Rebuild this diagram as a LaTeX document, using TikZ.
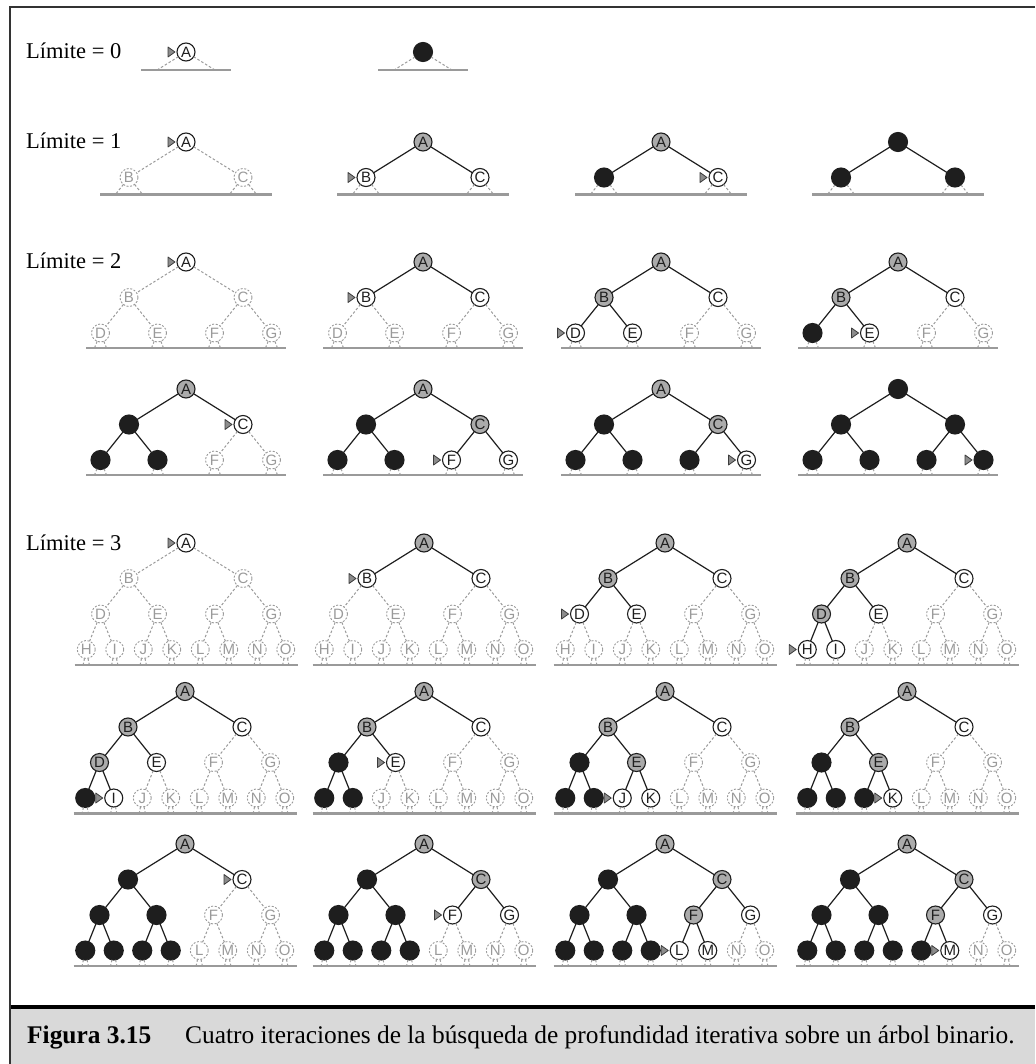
\documentclass[tikz,border=0pt]{standalone}
\usepackage{fontspec}
\setmainfont{Liberation Serif}
\newfontfamily\nodefont{Liberation Sans}
\definecolor{lgray}{HTML}{9A9A9A}
\definecolor{egray}{HTML}{ABABAB}
\definecolor{blk}{HTML}{1E1E1E}
\definecolor{capgray}{HTML}{D9D9D9}
\definecolor{framec}{HTML}{333333}
\definecolor{mkfill}{HTML}{8C8C8C}
\definecolor{mkdraw}{HTML}{3C3C3C}
\tikzset{
  tnode/.style={circle, minimum size=18pt, inner sep=0pt, outer sep=0pt, font=\nodefont\fontsize{15}{15}\selectfont},
  nodeu/.style={tnode, draw=lgray, dash pattern=on 2pt off 1.6pt, line width=0.9pt, text=lgray},
  nodef/.style={tnode, draw=blk, fill=white, line width=1.1pt, text=blk},
  nodee/.style={tnode, draw=blk, fill=egray, line width=1.1pt, text=blk},
  nodeb/.style={tnode, minimum size=19pt, draw=blk, fill=blk, line width=1.1pt},
  sedge/.style={draw=blk, line width=1.2pt},
  dedge/.style={draw=lgray, line width=1pt, dash pattern=on 2.5pt off 2pt},
  ground/.style={draw=lgray, line width=2.6pt},
  markerst/.style={fill=mkfill, draw=mkdraw, line width=0.8pt, line join=round},
  limlab/.style={font=\fontsize{22.5}{27}\selectfont, inner sep=0pt, anchor=base west},
}
\def\defpos#1#2#3{\expandafter\def\csname px#1\endcsname{#2}\expandafter\def\csname lv#1\endcsname{#3}}
\defpos{A}{0}{0}
\defpos{B}{-57}{1}\defpos{C}{57}{1}
\defpos{D}{-85.5}{2}\defpos{E}{-28.5}{2}\defpos{F}{28.5}{2}\defpos{G}{85.5}{2}
\defpos{H}{-99.75}{3}\defpos{I}{-71.25}{3}\defpos{J}{-42.75}{3}\defpos{K}{-14.25}{3}
\defpos{L}{14.25}{3}\defpos{M}{42.75}{3}\defpos{N}{71.25}{3}\defpos{O}{99.75}{3}
\newcommand\drawtree[5]{%
  \ifcase#4
    \def\tall{A}\def\tleaf{A}\def\tgh{45}\def\tgo{18}\def\tcoff{57}\def\tedges{}%
  \or
    \def\tall{A,B,C}\def\tleaf{B,C}\def\tgh{86}\def\tgo{17}\def\tcoff{28.5}\def\tedges{B/A,C/A}%
  \or
    \def\tall{A,B,C,D,E,F,G}\def\tleaf{D,E,F,G}\def\tgh{100}\def\tgo{15}\def\tcoff{14.25}%
    \def\tedges{B/A,C/A,D/B,E/B,F/C,G/C}%
  \or
    \def\tall{A,B,C,D,E,F,G,H,I,J,K,L,M,N,O}\def\tleaf{H,I,J,K,L,M,N,O}\def\tgh{111.5}\def\tgo{15.5}\def\tcoff{7.125}%
    \def\tedges{B/A,C/A,D/B,E/B,F/C,G/C,H/D,I/D,J/E,K/E,L/F,M/F,N/G,O/G}%
  \fi
  \foreach \nm in \tall {\expandafter\xdef\csname tst\nm\endcsname{u}}%
  \foreach \nm/\sv in {#5} {\expandafter\xdef\csname tst\nm\endcsname{\sv}}%
  \pgfmathsetmacro\gyv{#3+35.5*#4+\tgo}%
  \draw[ground] ({#2-\tgh},\gyv) -- ({#2+\tgh},\gyv);
  \foreach \nm in \tall {%
    \edef\st{\csname tst\nm\endcsname}%
    \edef\pxv{\csname px\nm\endcsname}%
    \edef\lvv{\csname lv\nm\endcsname}%
    \if u\st \tikzset{cur/.style={nodeu}}\fi
    \if f\st \tikzset{cur/.style={nodef}}\fi
    \if e\st \tikzset{cur/.style={nodee}}\fi
    \if b\st \tikzset{cur/.style={nodeb}}\fi
    \node[cur] (#1\nm) at ({#2+(\pxv)},{#3+35.5*\lvv}) {\if b\st\else\nm\fi};
  }%
  \ifnum#4>0
  \foreach \ch/\pa in \tedges {%
    \edef\cst{\csname tst\ch\endcsname}%
    \if u\cst \draw[dedge] (#1\pa) -- (#1\ch); \else \draw[sedge] (#1\pa) -- (#1\ch); \fi
  }%
  \fi
  \foreach \nm in \tleaf {%
    \edef\pxv{\csname px\nm\endcsname}%
    \coordinate (#1\nm sl) at ({#2+(\pxv)-\tcoff*\tgo/35.5},\gyv);
    \coordinate (#1\nm sr) at ({#2+(\pxv)+\tcoff*\tgo/35.5},\gyv);
    \draw[dedge] (#1\nm) -- (#1\nm sl);
    \draw[dedge] (#1\nm) -- (#1\nm sr);
  }%
}
\newcommand\curmarker[1]{\draw[markerst] ([xshift=-2pt]#1.west) -- ++(-7,5) -- ++(0,-10) -- cycle;}
\begin{document}
\begin{tikzpicture}[x=1pt,y=-1pt]
\useasboundingbox (0,0) rectangle (1035,1064);
% caption bar and frame
\fill[capgray] (10,1008) rectangle (1035,1064);
\draw[black, line width=4pt] (10,1006.5) -- (1035,1006.5);
\draw[framec, line width=2pt] (1035,7.5) -- (10,7.5) -- (10,1064);
\node[anchor=base west, inner sep=0pt, font=\bfseries\fontsize{25.4}{30}\selectfont] (capa) at (27,1043) {Figura 3.15};
\node[anchor=base west, inner sep=0pt, font=\fontsize{25.4}{30}\selectfont] (capb) at (185,1043) {Cuatro iteraciones de la búsqueda de profundidad iterativa sobre un árbol binario.};
% labels
\node[limlab] (lab0) at (26,59) {Límite = 0};
\node[limlab] (lab1) at (26,149) {Límite = 1};
\node[limlab] (lab2) at (26,269) {Límite = 2};
\node[limlab] (lab3) at (26,550) {Límite = 3};
% Limite 0
\drawtree{ta}{186}{52}{0}{A/f} \curmarker{taA}
\drawtree{tb}{423}{52}{0}{A/b}
% Limite 1
\drawtree{tc}{186}{142}{1}{A/f} \curmarker{tcA}
\drawtree{td}{423}{142}{1}{A/e,B/f,C/f} \curmarker{tdB}
\drawtree{te}{661}{142}{1}{A/e,B/b,C/f} \curmarker{teC}
\drawtree{tf}{898}{142}{1}{A/b,B/b,C/b}
% Limite 2
\drawtree{tg}{186}{262}{2}{A/f} \curmarker{tgA}
\drawtree{th}{423}{262}{2}{A/e,B/f,C/f} \curmarker{thB}
\drawtree{ti}{661}{262}{2}{A/e,B/e,C/f,D/f,E/f} \curmarker{tiD}
\drawtree{tj}{898}{262}{2}{A/e,B/e,C/f,D/b,E/f} \curmarker{tjE}
\drawtree{tk}{186}{389}{2}{A/e,B/b,C/f,D/b,E/b} \curmarker{tkC}
\drawtree{tl}{423}{389}{2}{A/e,B/b,C/e,D/b,E/b,F/f,G/f} \curmarker{tlF}
\drawtree{tm}{661}{389}{2}{A/e,B/b,C/e,D/b,E/b,F/b,G/f} \curmarker{tmG}
\drawtree{tn}{898}{389}{2}{A/b,B/b,C/b,D/b,E/b,F/b,G/b} \curmarker{tnG}
% Limite 3
\drawtree{to}{186}{543}{3}{A/f} \curmarker{toA}
\drawtree{tp}{424}{543}{3}{A/e,B/f,C/f} \curmarker{tpB}
\drawtree{tq}{665}{543}{3}{A/e,B/e,C/f,D/f,E/f} \curmarker{tqD}
\drawtree{tr}{907}{543}{3}{A/e,B/e,C/f,D/e,E/f,H/f,I/f} \curmarker{trH}
\drawtree{ts}{185}{691.5}{3}{A/e,B/e,C/f,D/e,E/f,H/b,I/f} \curmarker{tsI}
\drawtree{tt}{424}{691.5}{3}{A/e,B/e,C/f,D/b,E/f,H/b,I/b} \curmarker{ttE}
\drawtree{tu}{665}{691.5}{3}{A/e,B/e,C/f,D/b,E/e,H/b,I/b,J/f,K/f} \curmarker{tuJ}
\drawtree{tv}{907}{691.5}{3}{A/e,B/e,C/f,D/b,E/e,H/b,I/b,J/b,K/f} \curmarker{tvK}
\drawtree{tw}{185}{844}{3}{A/e,B/b,C/f,D/b,E/b,H/b,I/b,J/b,K/b} \curmarker{twC}
\drawtree{tx}{424}{844}{3}{A/e,B/b,C/e,D/b,E/b,F/f,G/f,H/b,I/b,J/b,K/b} \curmarker{txF}
\drawtree{ty}{665}{844}{3}{A/e,B/b,C/e,D/b,E/b,F/e,G/f,H/b,I/b,J/b,K/b,L/f,M/f} \curmarker{tyL}
\drawtree{tz}{907}{844}{3}{A/e,B/b,C/e,D/b,E/b,F/e,G/f,H/b,I/b,J/b,K/b,L/b,M/f} \curmarker{tzM}
\end{tikzpicture}
\end{document}
